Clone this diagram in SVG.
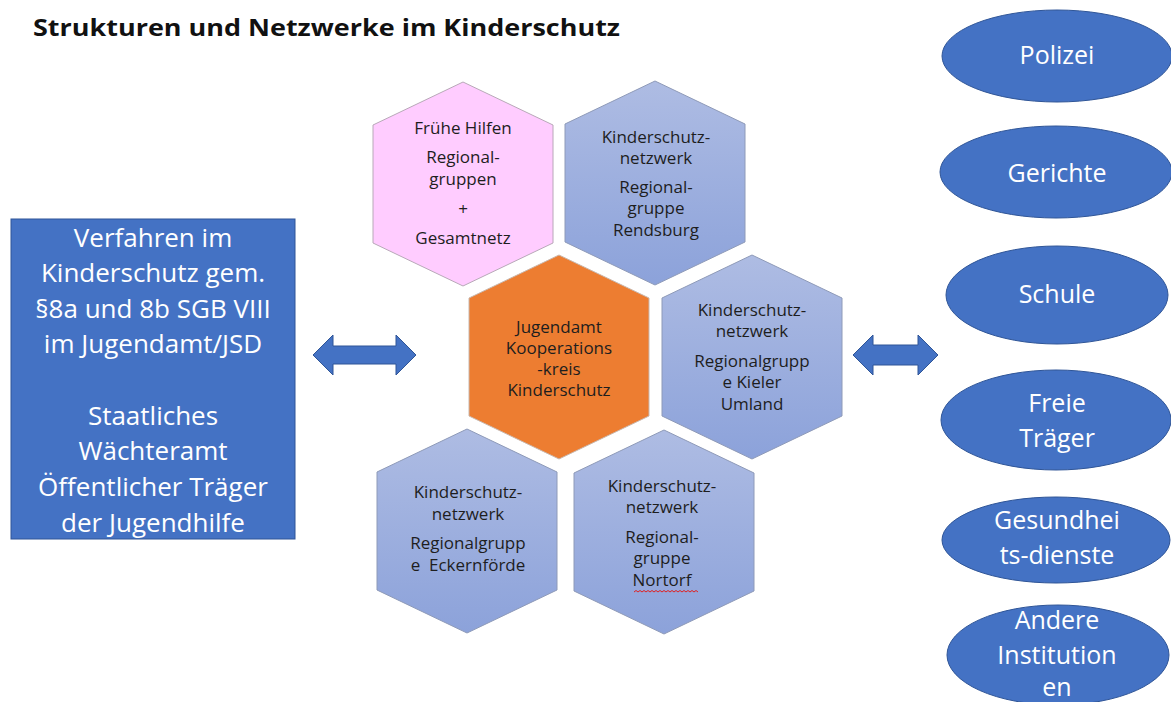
<svg xmlns="http://www.w3.org/2000/svg" xmlns:xlink="http://www.w3.org/1999/xlink" width="1171" height="702" viewBox="0 0 1171 702">
  <defs>
    <linearGradient id="blueGrad" x1="0" y1="0" x2="0" y2="1">
      <stop offset="0" stop-color="#AEBCE3"/>
      <stop offset="1" stop-color="#8CA2DA"/>
    </linearGradient>
    <path id="hex" d="M0,-102 L90,-59 L90,59 L0,102 L-90,59 L-90,-59 Z"/>
  </defs>
  <style>
    .title { font-family: "Open Sans", "Liberation Sans", sans-serif; font-weight: bold; font-size: 24px; fill: #111; }
    .box { fill: #4472C4; stroke: #2F5597; stroke-width: 1; }
    .boxText { font-family: "Open Sans", "Liberation Sans", sans-serif; font-size: 26px; fill: #fff; text-anchor: middle; }
    .hexBlue { fill: url(#blueGrad); stroke: #8E9AB8; stroke-width: 1; }
    .hexPink { fill: #FFCCFF; stroke: #B8A8B8; stroke-width: 1; }
    .hexOrange { fill: #ED7D31; stroke: #C9B8AE; stroke-width: 1; }
    .hexText { font-family: "Open Sans", "Liberation Sans", sans-serif; font-size: 17px; fill: #1E1E1E; text-anchor: middle; }
    .ell { fill: #4472C4; stroke: #2F5597; stroke-width: 1; }
    .ellText { font-family: "Open Sans", "Liberation Sans", sans-serif; font-size: 25px; fill: #fff; text-anchor: middle; }
    .arrow { fill: #4472C4; stroke: #2F5597; stroke-width: 1; }
  </style>
  <rect width="1171" height="702" fill="#fff"/>

  <text class="title" x="33" y="36" textLength="587" lengthAdjust="spacingAndGlyphs">Strukturen und Netzwerke im Kinderschutz</text>

  <g id="verfahren">
    <rect class="box" x="11" y="219" width="284" height="320"/>
    <text class="boxText" x="153" y="247">Verfahren im</text>
    <text class="boxText" x="153" y="282">Kinderschutz gem.</text>
    <text class="boxText" x="153" y="318">§8a und 8b SGB VIII</text>
    <text class="boxText" x="153" y="353">im Jugendamt/JSD</text>
    <text class="boxText" x="153" y="425">Staatliches</text>
    <text class="boxText" x="153" y="460">Wächteramt</text>
    <text class="boxText" x="153" y="496">Öffentlicher Träger</text>
    <text class="boxText" x="153" y="532">der Jugendhilfe</text>
  </g>

  <g id="connectors">
    <path class="arrow" d="M313,355 L333,335 L333,346 L396,346 L396,335 L416,355 L396,375 L396,364 L333,364 L333,375 Z"/>
    <path class="arrow" d="M853,355 L873,335 L873,345 L918,345 L918,335 L938,355 L918,375 L918,365 L873,365 L873,375 Z"/>
  </g>

  <g id="fruehe-hilfen">
    <use xlink:href="#hex" class="hexPink" x="463" y="184"/>
    <text class="hexText" x="463" y="134">Frühe Hilfen</text>
    <text class="hexText" x="463" y="163">Regional-</text>
    <text class="hexText" x="463" y="185">gruppen</text>
    <text class="hexText" x="463" y="215">+</text>
    <text class="hexText" x="463" y="244">Gesamtnetz</text>
  </g>

  <g id="rendsburg">
    <use xlink:href="#hex" class="hexBlue" x="655" y="183"/>
    <text class="hexText" x="656" y="143">Kinderschutz-</text>
    <text class="hexText" x="656" y="164">netzwerk</text>
    <text class="hexText" x="656" y="193">Regional-</text>
    <text class="hexText" x="656" y="214">gruppe</text>
    <text class="hexText" x="656" y="236">Rendsburg</text>
  </g>

  <g id="jugendamt">
    <use xlink:href="#hex" class="hexOrange" x="559" y="357"/>
    <text class="hexText" x="559" y="333">Jugendamt</text>
    <text class="hexText" x="559" y="354">Kooperations</text>
    <text class="hexText" x="559" y="375">-kreis</text>
    <text class="hexText" x="559" y="396">Kinderschutz</text>
  </g>

  <g id="kieler-umland">
    <use xlink:href="#hex" class="hexBlue" x="752" y="357"/>
    <text class="hexText" x="752" y="316">Kinderschutz-</text>
    <text class="hexText" x="752" y="337">netzwerk</text>
    <text class="hexText" x="752" y="367">Regionalgrupp</text>
    <text class="hexText" x="752" y="388">e Kieler</text>
    <text class="hexText" x="752" y="410">Umland</text>
  </g>

  <g id="eckernfoerde">
    <use xlink:href="#hex" class="hexBlue" x="467" y="531"/>
    <text class="hexText" x="468" y="498">Kinderschutz-</text>
    <text class="hexText" x="468" y="520">netzwerk</text>
    <text class="hexText" x="468" y="549">Regionalgrupp</text>
    <text class="hexText" x="468" y="571" xml:space="preserve">e  Eckernförde</text>
  </g>

  <g id="nortorf">
    <use xlink:href="#hex" class="hexBlue" x="664" y="532"/>
    <text class="hexText" x="662" y="492">Kinderschutz-</text>
    <text class="hexText" x="662" y="513">netzwerk</text>
    <text class="hexText" x="662" y="543">Regional-</text>
    <text class="hexText" x="662" y="564">gruppe</text>
    <text class="hexText" x="662" y="586">Nortorf</text>
    <path d="M634,592 l2,-1.5 l2,1.5 l2,-1.5 l2,1.5 l2,-1.5 l2,1.5 l2,-1.5 l2,1.5 l2,-1.5 l2,1.5 l2,-1.5 l2,1.5 l2,-1.5 l2,1.5 l2,-1.5 l2,1.5 l2,-1.5 l2,1.5 l2,-1.5 l2,1.5 l2,-1.5 l2,1.5 l2,-1.5 l2,1.5 l2,-1.5 l2,1.5 l2,-1.5 l2,1.5 l2,-1.5 l2,1.5 l2,-1.5 l2,1.5" fill="none" stroke="#E02020" stroke-width="1"/>
  </g>

  <g id="polizei">
    <ellipse class="ell" cx="1057" cy="56" rx="115" ry="46"/>
    <text class="ellText" x="1057" y="64">Polizei</text>
  </g>
  <g id="gerichte">
    <ellipse class="ell" cx="1056" cy="172" rx="116" ry="46"/>
    <text class="ellText" x="1057" y="182">Gerichte</text>
  </g>
  <g id="schule">
    <ellipse class="ell" cx="1057" cy="295" rx="111" ry="49"/>
    <text class="ellText" x="1057" y="303">Schule</text>
  </g>
  <g id="freie-traeger">
    <ellipse class="ell" cx="1056" cy="420" rx="115" ry="50"/>
    <text class="ellText" x="1057" y="412">Freie</text>
    <text class="ellText" x="1057" y="447">Träger</text>
  </g>
  <g id="gesundheitsdienste">
    <ellipse class="ell" cx="1056" cy="540" rx="114" ry="43"/>
    <text class="ellText" x="1057" y="529">Gesundhei</text>
    <text class="ellText" x="1057" y="564">ts-dienste</text>
  </g>
  <g id="andere-institutionen">
    <ellipse class="ell" cx="1058" cy="655" rx="111" ry="50"/>
    <text class="ellText" x="1057" y="629">Andere</text>
    <text class="ellText" x="1057" y="664">Institution</text>
    <text class="ellText" x="1057" y="696">en</text>
  </g>
</svg>
